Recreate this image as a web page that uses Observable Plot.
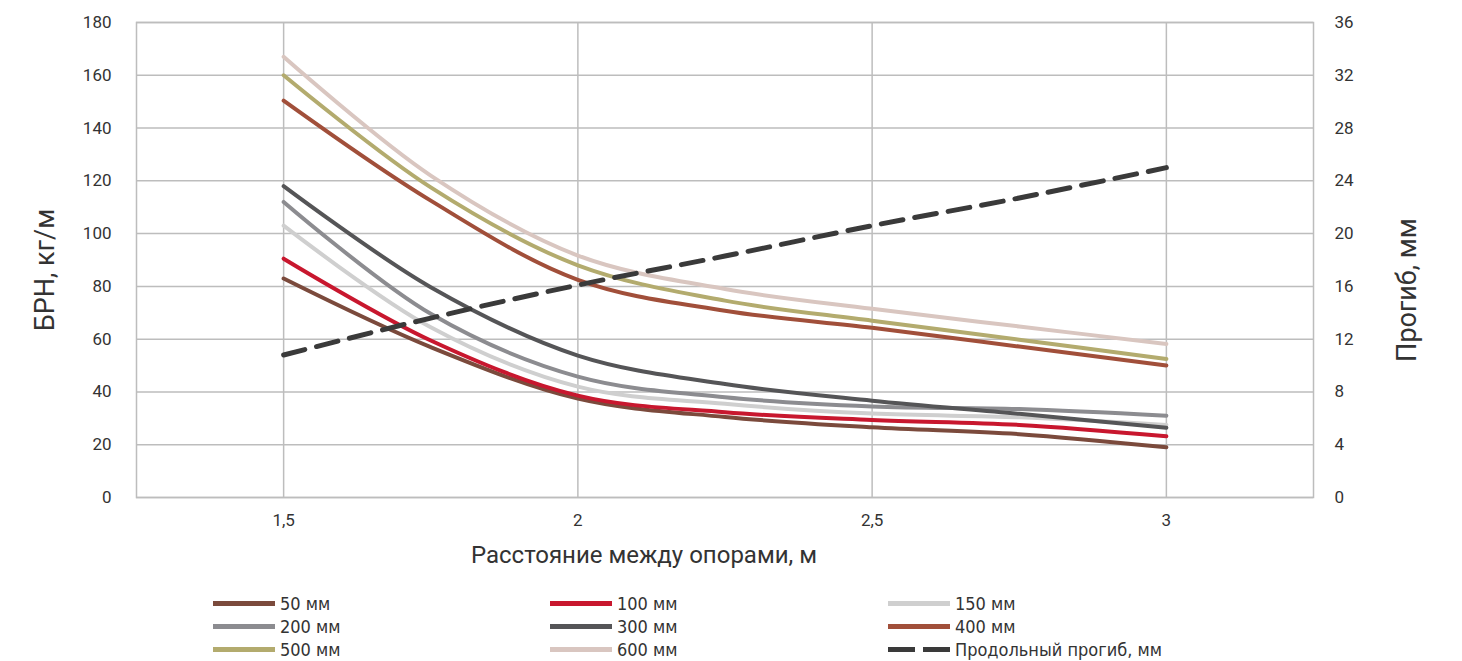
<!DOCTYPE html>
<html>
<head>
<meta charset="utf-8">
<script src="https://cdn.jsdelivr.net/npm/d3@7"></script>
<script src="https://cdn.jsdelivr.net/npm/@observablehq/plot@0.6"></script>
<style>
  html, body { margin: 0; padding: 0; background: #fff; }
  #chart svg { display: block; }
  .legend {
    display: grid;
    grid-template-columns: 337px 338px auto;
    grid-auto-rows: 23px;
    margin-left: 213px;
    padding-top: 10px;
    font-family: "Liberation Sans Narrow", "DejaVu Sans Condensed", Roboto, sans-serif;
    font-size: 18px;
    color: #333;
  }
  .item { display: flex; align-items: center; white-space: nowrap; }
  .sw { display: inline-block; width: 62px; height: 5px; margin-right: 5px; }
  .dash { display: inline-flex; width: 62px; margin-right: 5px; justify-content: space-between; }
  .dash span { display: inline-block; width: 27px; height: 5px; background: #3a3a3a; }
</style>
</head>
<body>
<div id="chart"></div>
<div class="legend" id="legend"></div>
<script>
// Data
const distances = [1.5, 1.75, 2, 2.25, 2.5, 2.75, 3];
const seriesNames = ["50 мм", "100 мм", "150 мм", "200 мм", "300 мм", "400 мм", "500 мм", "600 мм"];
const s50  = [83, 57, 37.5, 30.5, 26.6, 24, 19];
const s100 = [90.5, 59.5, 38.6, 32.3, 29.4, 27.5, 23.2];
const s150 = [103, 64.5, 42, 35.5, 31.8, 30.4, 27.5];
const s200 = [112, 69.6, 45.8, 38, 34.5, 33.5, 31];
const s300 = [118, 79.7, 53.8, 43, 36.7, 31.7, 26.4];
const s400 = [150.4, 112.5, 82.5, 70.8, 64.3, 57.2, 50];
const s500 = [160, 117.5, 88, 74.6, 67, 59.8, 52.5];
const s600 = [167, 122, 91.7, 79, 71.5, 64.8, 58.2];
const deflectionName = "Продольный прогиб, мм";
const deflection = [10.8, 13.6, 16.1, 18.3, 20.6, 22.7, 25];
const colors = ["#7b4a3c", "#c8172e", "#cfcfcf", "#8c8c90", "#555557", "#a14f3a", "#b3ab6e", "#d9c6c0"];
const dashColor = "#3a3a3a";
const yTicks = [0, 20, 40, 60, 80, 100, 120, 140, 160, 180];
const xTicks = [1.5, 2, 2.5, 3];
const ratio = 5; // right axis (mm) maps 0..36 onto left 0..180

const allSeries = [s50, s100, s150, s200, s300, s400, s500, s600];
const rows = [];
allSeries.forEach((arr, i) => arr.forEach((v, j) => rows.push({series: seriesNames[i], x: distances[j], y: v})));
const defRows = deflection.map((v, j) => ({x: distances[j], mm: v}));

const font = "Roboto, 'DejaVu Sans', sans-serif";
const chart = Plot.plot({
  width: 1462,
  height: 582,
  marginLeft: 136,
  marginRight: 149,
  marginTop: 22,
  marginBottom: 85,
  style: {fontFamily: font, fontSize: "17px", color: "#333", background: "#fff"},
  x: {domain: [1.25, 3.25]},
  y: {domain: [0, 180]},
  color: {domain: seriesNames, range: colors},
  marks: [
    Plot.gridY({ticks: yTicks, stroke: "#bdbdbd", strokeOpacity: 1, strokeWidth: 1.5}),
    Plot.gridX({ticks: xTicks, stroke: "#bdbdbd", strokeOpacity: 1, strokeWidth: 1.5}),
    Plot.frame({stroke: "#bdbdbd", strokeWidth: 1.5}),
    Plot.axisX({ticks: xTicks, tickSize: 0, tickPadding: 16, tickFormat: d => String(d).replace(".", ","), label: null, fontSize: 17}),
    Plot.axisY({anchor: "left", ticks: yTicks, tickSize: 0, tickPadding: 25, label: null, fontSize: 17}),
    Plot.axisY({anchor: "right", ticks: yTicks, tickSize: 0, tickPadding: 21, tickFormat: d => d / ratio, label: null, fontSize: 17}),
    Plot.line(rows, {x: "x", y: "y", z: "series", stroke: "series", strokeWidth: 4, curve: "catmull-rom"}),
    Plot.line(defRows, {x: "x", y: d => d.mm * ratio, stroke: dashColor, strokeWidth: 5, strokeDasharray: "22,12", curve: "catmull-rom"}),
    Plot.text(["Расстояние между опорами, м"], {frameAnchor: "bottom", textAnchor: "middle", lineAnchor: "middle", dx: -81, dy: 58, fontSize: 24, fill: "#333"}),
    Plot.text(["БРН, кг/м"], {frameAnchor: "left", textAnchor: "middle", lineAnchor: "middle", rotate: -90, dx: -91, dy: 10, fontSize: 27, fill: "#333"}),
    Plot.text(["Прогиб, мм"], {frameAnchor: "right", textAnchor: "middle", lineAnchor: "middle", rotate: -90, dx: 94, dy: 30, fontSize: 27, fill: "#333"})
  ]
});
document.getElementById("chart").appendChild(chart);

const legend = document.getElementById("legend");
seriesNames.forEach((name, i) => {
  const item = document.createElement("div");
  item.className = "item";
  item.innerHTML = `<span class="sw" style="background:${colors[i]}"></span><span>${name}</span>`;
  legend.appendChild(item);
});
const dItem = document.createElement("div");
dItem.className = "item";
dItem.innerHTML = `<span class="dash"><span></span><span></span></span><span>${deflectionName}</span>`;
legend.appendChild(dItem);
</script>
</body>
</html>
